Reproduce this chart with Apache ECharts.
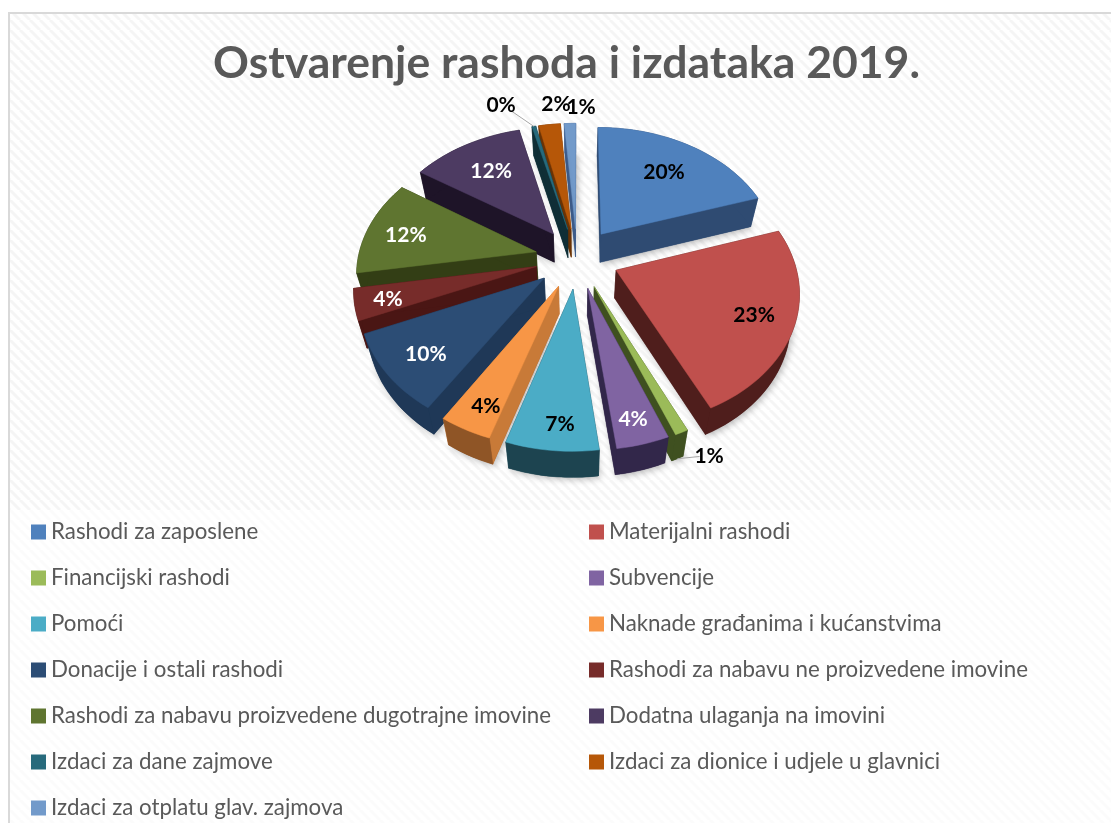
<!DOCTYPE html>
<html>
<head>
<meta charset="utf-8">
<title>Ostvarenje rashoda i izdataka 2019.</title>
<script src="https://cdn.jsdelivr.net/npm/echarts@6/dist/echarts.min.js"></script>
<style>
  html, body { margin: 0; padding: 0; background: #fff; }
  #chart { width: 1111px; height: 823px; }
</style>
</head>
<body>
<div id="chart"></div>
<script>
const categories = [
  'Rashodi za zaposlene', 'Materijalni rashodi', 'Financijski rashodi', 'Subvencije',
  'Pomoći', 'Naknade građanima i kućanstvima', 'Donacije i ostali rashodi',
  'Rashodi za nabavu ne proizvedene imovine', 'Rashodi za nabavu proizvedene dugotrajne imovine',
  'Dodatna ulaganja na imovini', 'Izdaci za dane zajmove', 'Izdaci za dionice i udjele u glavnici',
  'Izdaci za otplatu glav. zajmova'
];
const values = [20, 23, 1, 4, 7, 4, 9.6, 3.8, 11.8, 11.9, 0.4, 2.3, 1.2];
const percentLabels = ['20%', '23%', '1%', '4%', '7%', '4%', '10%', '4%', '12%', '12%', '0%', '2%', '1%'];
const topColors = ['#4f81bd', '#c0504d', '#9bbb59', '#8064a2', '#4bacc6', '#f79646', '#2c4d75', '#772c2a', '#5f7530', '#4d3b62', '#276a7c', '#b65708', '#729aca'];
const wallColors = ['#2f4b72', '#4f1e1c', '#3f5020', '#32274a', '#1d4450', '#c87a38', '#1f3857', '#4a1614', '#333e15', '#1e1428', '#0f2e36', '#6a3305', '#3f5f8f'];
const rimColors = ['#2f4b72', '#4f1e1c', '#3f5020', '#32274a', '#1d4450', '#8f5526', '#1f3857', '#4a1614', '#333e15', '#1e1428', '#0f2e36', '#6a3305', '#3f5f8f'];
const labelColors = ['#000', '#000', '#000', '#fff', '#000', '#000', '#fff', '#fff', '#fff', '#fff', '#000', '#000', '#000'];

// label spots on the pie plane (1 = pie radius)
const labelSpots = [[.542, .751], [.936, -.41], [.607, -1.257], [.267, -1.057], [-.081, -1.085], [-.439, -.984], [-.767, -.669], [-1.016, -.299], [-.988, .192], [-.536, .761], [-.516, 1.451], [-.143, 1.462], [.028, 1.429]];

const cx = 577, cy = 258, radiusX = 178, radiusY = 128.5;
const perspective = 0.145, explode = 0.236;
const wallShrinkX = 0.96, wallShrinkY = 0.99, wallHeight = 28;

const total = values.reduce((a, b) => a + b, 0);
const starts = [];
values.reduce((sum, v, i) => { starts[i] = sum / total * Math.PI * 2; return sum + v; }, 0);

function project(x, y) {
  const w = 1 + perspective * y;
  return [cx + radiusX * x / w, cy - radiusY * y / w];
}
function lower(p) {
  return [cx + (p[0] - cx) * wallShrinkX, cy + (p[1] - cy) * wallShrinkY + wallHeight];
}

function sliceGeometry(i) {
  const a0 = starts[i];
  const a1 = a0 + values[i] / total * Math.PI * 2;
  const mid = (a0 + a1) / 2;
  const ox = explode * Math.sin(mid), oy = explode * Math.cos(mid);
  const steps = Math.max(2, Math.ceil((a1 - a0) / 0.04));
  const arc = [];
  for (let s = 0; s <= steps; s++) {
    const a = a0 + (a1 - a0) * s / steps;
    arc.push(project(ox + Math.sin(a), oy + Math.cos(a)));
  }
  return { apex: project(ox, oy), arc, mid };
}

function renderSlice(i) {
  return function () {
    const g = sliceGeometry(i);
    const { apex, arc } = g;
    const last = arc[arc.length - 1];
    const wall = (points, fill) => ({ type: 'polygon', shape: { points }, style: { fill, stroke: fill, lineWidth: 0.5 } });
    const children = [
      {
        type: 'polygon',
        shape: { points: arc.map(lower).concat([lower(apex)]) },
        style: { fill: rimColors[i], shadowColor: 'rgba(0,0,0,.28)', shadowBlur: 7, shadowOffsetX: 2, shadowOffsetY: 2 }
      },
      wall([apex, arc[0], lower(arc[0]), lower(apex)], wallColors[i]),
      wall([apex, last, lower(last), lower(apex)], wallColors[i]),
      wall(arc.concat(arc.map(lower).reverse()), rimColors[i]),
      { type: 'polygon', shape: { points: [apex].concat(arc) }, style: { fill: topColors[i], stroke: topColors[i], lineWidth: 0.5 } }
    ];
    return { type: 'group', children };
  };
}

function renderLabel(i) {
  return function () {
    const at = project(labelSpots[i][0], labelSpots[i][1]);
    const children = [];
    // thin leader lines on the two smallest slices
    if (i === 2 || i === 10) {
      const g = sliceGeometry(i);
      const outer = g.arc[Math.floor(g.arc.length / 2)];
      const from = i === 2 ? lower(outer) : outer;
      const to = [from[0] + (at[0] - from[0]) * 0.7, from[1] + (at[1] - from[1]) * 0.7];
      children.push({ type: 'polyline', shape: { points: [from, to] }, style: { stroke: '#a6a6a6', lineWidth: 1, fill: 'none' } });
    }
    children.push({
      type: 'text',
      style: {
        text: percentLabels[i], x: at[0], y: at[1] + 1, align: 'center', verticalAlign: 'middle',
        fill: labelColors[i], font: 'bold 21px Lato, sans-serif'
      }
    });
    return { type: 'group', children };
  };
}

// paint back to front
const paintOrder = values.map((v, i) => i).sort((a, b) => {
  const ma = starts[a] + values[a] / total * Math.PI;
  const mb = starts[b] + values[b] / total * Math.PI;
  return Math.cos(mb) - Math.cos(ma);
});

const series = categories.map((name, i) => ({
  type: 'custom',
  name,
  coordinateSystem: 'none',
  silent: true,
  z: 2 + paintOrder.indexOf(i) * 0.01,
  color: topColors[i],
  data: [values[i]],
  renderItem: renderSlice(i)
}));
percentLabels.forEach((text, i) => {
  series.push({
    type: 'custom',
    coordinateSystem: 'none',
    silent: true,
    z: 5,
    data: [values[i]],
    renderItem: renderLabel(i)
  });
});

function stripes(line) {
  const size = 10;
  const c = document.createElement('canvas');
  c.width = c.height = size;
  const ctx = c.getContext('2d');
  ctx.fillStyle = '#fff';
  ctx.fillRect(0, 0, size, size);
  ctx.strokeStyle = line;
  ctx.lineWidth = 3;
  [-size, 0, size].forEach(d => {
    ctx.beginPath();
    ctx.moveTo(d, 0);
    ctx.lineTo(d + size, size);
    ctx.stroke();
  });
  return c;
}

const legendText = { color: '#595959', fontFamily: 'Lato, sans-serif', fontSize: 22.3 };
const legendBase = {
  orient: 'vertical', selectedMode: false, icon: 'rect', itemWidth: 15, itemHeight: 15,
  itemGap: 24, textStyle: legendText, padding: 0, top: 521
};

const chart = echarts.init(document.getElementById('chart'), null, { renderer: 'canvas' });
chart.setOption({
  animation: false,
  backgroundColor: '#fff',
  title: {
    text: 'Ostvarenje rashoda i izdataka 2019.',
    left: 561.5, top: 36, textAlign: 'center',
    textStyle: { color: '#595959', fontFamily: 'Lato, sans-serif', fontWeight: 'bold', fontSize: 44.5 }
  },
  legend: [
    Object.assign({}, legendBase, { left: 31, data: categories.filter((c, i) => i % 2 === 0) }),
    Object.assign({}, legendBase, { left: 589, data: categories.filter((c, i) => i % 2 === 1) })
  ],
  graphic: [
    { type: 'rect', z: -1, shape: { x: 9, y: 14, width: 1102, height: 496 }, style: { fill: { image: stripes('#f5f5f5'), repeat: 'repeat' } } },
    { type: 'rect', z: -1, shape: { x: 9, y: 510, width: 1102, height: 313 }, style: { fill: { image: stripes('#fbfbfb'), repeat: 'repeat' } } },
    { type: 'polyline', z: 0, shape: { points: [[9, 823], [9, 13], [1111, 13]] }, style: { stroke: '#d9d9d9', lineWidth: 2, fill: 'none' } }
  ],
  series
});
window.addEventListener('resize', () => chart.resize());
</script>
</body>
</html>
